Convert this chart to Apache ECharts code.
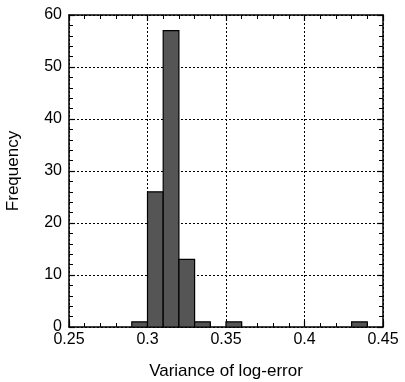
<!DOCTYPE html>
<html><head><meta charset="utf-8">
<script src="https://cdn.jsdelivr.net/npm/echarts@6/dist/echarts.min.js"></script>
<style>html,body{margin:0;padding:0;background:#fff}#c{width:405px;height:382px}</style>
</head><body><div id="c"></div>
<script>
const binStarts = [0.29, 0.30, 0.31, 0.32, 0.33, 0.35, 0.43];
const counts = [1, 26, 57, 13, 1, 1, 1];
const binWidth = 0.01;
const xTitle = 'Variance of log-error';
const yTitle = 'Frequency';

const font = 'Liberation Sans, Arial, Helvetica, sans-serif';
const chart = echarts.init(document.getElementById('c'), null, {renderer: 'canvas'});
const frame = {show: true, onZero: false, lineStyle: {color: '#000', width: 1.5}};
const xBase = {type: 'value', min: 0.25, max: 0.45, interval: 0.05, axisLine: frame,
  axisTick: {show: true, inside: true, length: 6, lineStyle: {color: '#000', width: 1.2}},
  minorTick: {show: true, splitNumber: 5, length: 4, lineStyle: {color: '#000', width: 1}}};
const yBase = {type: 'value', min: 0, max: 60, interval: 10, axisLine: frame,
  axisTick: {show: true, inside: true, length: 6, lineStyle: {color: '#000', width: 1.2}},
  minorTick: {show: true, splitNumber: 5, length: 4, lineStyle: {color: '#000', width: 1}}};
chart.setOption({
  animation: false,
  backgroundColor: '#fff',
  grid: {left: 69, right: 22, top: 15, bottom: 55, containLabel: false, outerBoundsMode: 'none'},
  xAxis: [
    Object.assign({}, xBase, {position: 'bottom', name: xTitle, nameLocation: 'middle', nameGap: 36,
      nameTextStyle: {color: '#000', fontSize: 17, fontFamily: font},
      axisLabel: {color: '#000', fontSize: 16, fontFamily: font, margin: 5, formatter: v => String(+v.toFixed(2))},
      splitLine: {show: true, lineStyle: {color: '#000', type: [2, 2], width: 1}}}),
    Object.assign({}, xBase, {position: 'top', axisLabel: {show: false}, splitLine: {show: false}})
  ],
  yAxis: [
    Object.assign({}, yBase, {position: 'left', name: yTitle, nameLocation: 'middle', nameGap: 47,
      nameTextStyle: {color: '#000', fontSize: 17, fontFamily: font},
      axisLabel: {color: '#000', fontSize: 16, fontFamily: font, margin: 7},
      splitLine: {show: true, lineStyle: {color: '#000', type: [2, 2], width: 1}}}),
    Object.assign({}, yBase, {position: 'right', axisLabel: {show: false}, splitLine: {show: false}})
  ],
  series: [{
    type: 'custom',
    xAxisIndex: 0, yAxisIndex: 0,
    data: binStarts.map((s, i) => [s, counts[i]]),
    encode: {x: 0, y: 1},
    renderItem: function (params, api) {
      const x0 = api.value(0), y = api.value(1);
      const p0 = api.coord([x0, y]);
      const p1 = api.coord([x0 + binWidth, 0]);
      return {type: 'rect', shape: {x: p0[0], y: p0[1], width: p1[0] - p0[0], height: p1[1] - p0[1]},
        style: {fill: '#555555', stroke: '#000', lineWidth: 1.2}};
    }
  }]
});
</script></body></html>
